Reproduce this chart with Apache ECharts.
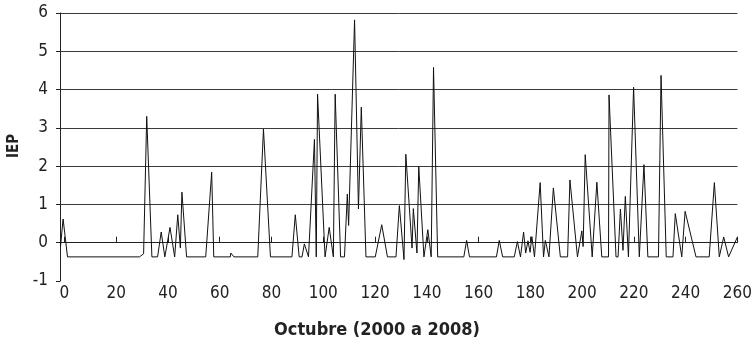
<!DOCTYPE html>
<html>
<head>
<meta charset="utf-8">
<script src="https://cdn.jsdelivr.net/npm/echarts@6/dist/echarts.min.js"></script>
<style>
  html, body { margin: 0; padding: 0; background: #fff; }
  #chart { width: 755px; height: 345px; }
</style>
</head>
<body>
<div id="chart"></div>
<script>
// IEP readings for October, 2000 to 2008 (x = observation number)
const xVals = [
  -1.5, -0.5, 1.2, 29.0, 30.6, 31.8, 33.8, 36.0, 37.4, 38.8,
  39.5, 40.8, 42.6, 43.8, 44.8, 45.4, 47.2, 54.6, 56.9, 57.7,
  64.1, 64.3, 65.5, 74.7, 76.9, 79.6, 87.9, 89.2, 90.7, 91.8,
  92.7, 94.3, 96.6, 97.3, 97.8, 100.7, 102.3, 103.9, 104.6, 106.7,
  108.2, 109.3, 109.8, 112.1, 113.6, 114.7, 116.5, 120.1, 122.6, 124.8,
  128.1, 129.4, 131.2, 131.9, 134.3, 134.8, 136.2, 136.9, 138.9, 140.4,
  141.7, 142.6, 144.2, 154.3, 155.4, 156.5, 166.9, 168.0, 169.3, 173.8,
  175.0, 176.2, 177.4, 178.2, 179.1, 179.9, 180.6, 181.6, 183.8, 185.1,
  185.8, 187.2, 188.9, 191.6, 194.4, 195.3, 198.2, 199.9, 200.4, 201.2,
  203.9, 205.7, 207.6, 210.2, 210.4, 213.1, 213.9, 214.8, 215.8, 216.7,
  217.9, 219.9, 222.1, 223.9, 225.4, 229.5, 230.5, 232.5, 235.1, 236.0,
  238.5, 239.8, 244.0, 249.1, 251.1, 253.0, 254.7, 256.6, 260.0
];
const iepVals = [
  -0.10, 0.62, -0.37, -0.37, -0.29, 3.30, -0.37, -0.37, 0.28, -0.37,
  -0.37, 0.40, -0.37, 0.73, -0.14, 1.32, -0.37, -0.37, 1.84, -0.37,
  -0.37, -0.27, -0.37, -0.37, 2.97, -0.37, -0.37, 0.73, -0.37, -0.37,
  -0.03, -0.37, 2.70, -0.37, 3.88, -0.37, 0.40, -0.37, 3.88, -0.37,
  -0.37, 1.27, 0.45, 5.82, 0.88, 3.54, -0.37, -0.37, 0.47, -0.37,
  -0.37, 0.97, -0.44, 2.31, -0.14, 0.89, -0.27, 1.99, -0.37, 0.34,
  -0.37, 4.58, -0.37, -0.37, 0.06, -0.37, -0.37, 0.06, -0.37, -0.37,
  0.03, -0.37, 0.28, -0.27, 0.05, -0.25, 0.16, -0.37, 1.57, -0.37,
  0.06, -0.37, 1.43, -0.37, -0.37, 1.64, -0.37, 0.31, -0.10, 2.30,
  -0.37, 1.58, -0.37, -0.37, 3.86, -0.37, -0.37, 0.88, -0.20, 1.21,
  -0.37, 4.06, -0.37, 2.04, -0.37, -0.37, 4.37, -0.37, -0.37, 0.76,
  -0.37, 0.82, -0.37, -0.37, 1.57, -0.37, 0.15, -0.37, 0.15
];
const xTickValues = [0, 20, 40, 60, 80, 100, 120, 140, 160, 180, 200, 220, 240, 260];
const xTitle = 'Octubre (2000 a 2008)';
const yTitle = 'IEP';

const FONT = '"Liberation Sans Narrow", "DejaVu Sans Condensed", sans-serif';
const chart = echarts.init(document.getElementById('chart'), null, { renderer: 'canvas' });

chart.setOption({
  animation: false,
  backgroundColor: '#ffffff',
  grid: { left: 60, right: 14, top: 13, bottom: 64, containLabel: false },
  xAxis: {
    type: 'value',
    min: -1.7,
    max: 260,
    axisLine: { show: true, onZero: true, lineStyle: { color: '#222', width: 1 } },
    axisTick: { show: true, inside: true, length: 6, customValues: xTickValues,
                lineStyle: { color: '#222', width: 1 } },
    axisLabel: { show: true, customValues: xTickValues, margin: 4,
                 fontFamily: FONT, fontSize: 17, color: '#222' },
    splitLine: { show: false }
  },
  yAxis: {
    type: 'value',
    min: -1,
    max: 6,
    interval: 1,
    axisLine: { show: true, onZero: false, lineStyle: { color: '#222', width: 1 } },
    axisTick: { show: true, length: 4, lineStyle: { color: '#222', width: 1 } },
    axisLabel: { margin: 12, fontFamily: FONT, fontSize: 17, color: '#222' },
    splitLine: { show: true, showMinLine: false, lineStyle: { color: '#3a3a3a', width: 1 } }
  },
  graphic: [
    {
      type: 'text',
      x: 14, y: 146,
      rotation: Math.PI / 2,
      style: { text: yTitle, fontFamily: FONT, fontWeight: 'bold', fontSize: 15,
               fill: '#222', textAlign: 'center', textVerticalAlign: 'middle' }
    },
    {
      type: 'text',
      x: 377, y: 330,
      style: { text: xTitle, fontFamily: FONT, fontWeight: 'bold', fontSize: 18,
               fill: '#222', textAlign: 'center', textVerticalAlign: 'middle' }
    }
  ],
  series: [{
    type: 'line',
    data: xVals.map((x, i) => [x, iepVals[i]]),
    showSymbol: false,
    symbol: 'none',
    lineStyle: { color: '#111', width: 1 },
    z: 3
  }]
});
</script>
</body>
</html>
